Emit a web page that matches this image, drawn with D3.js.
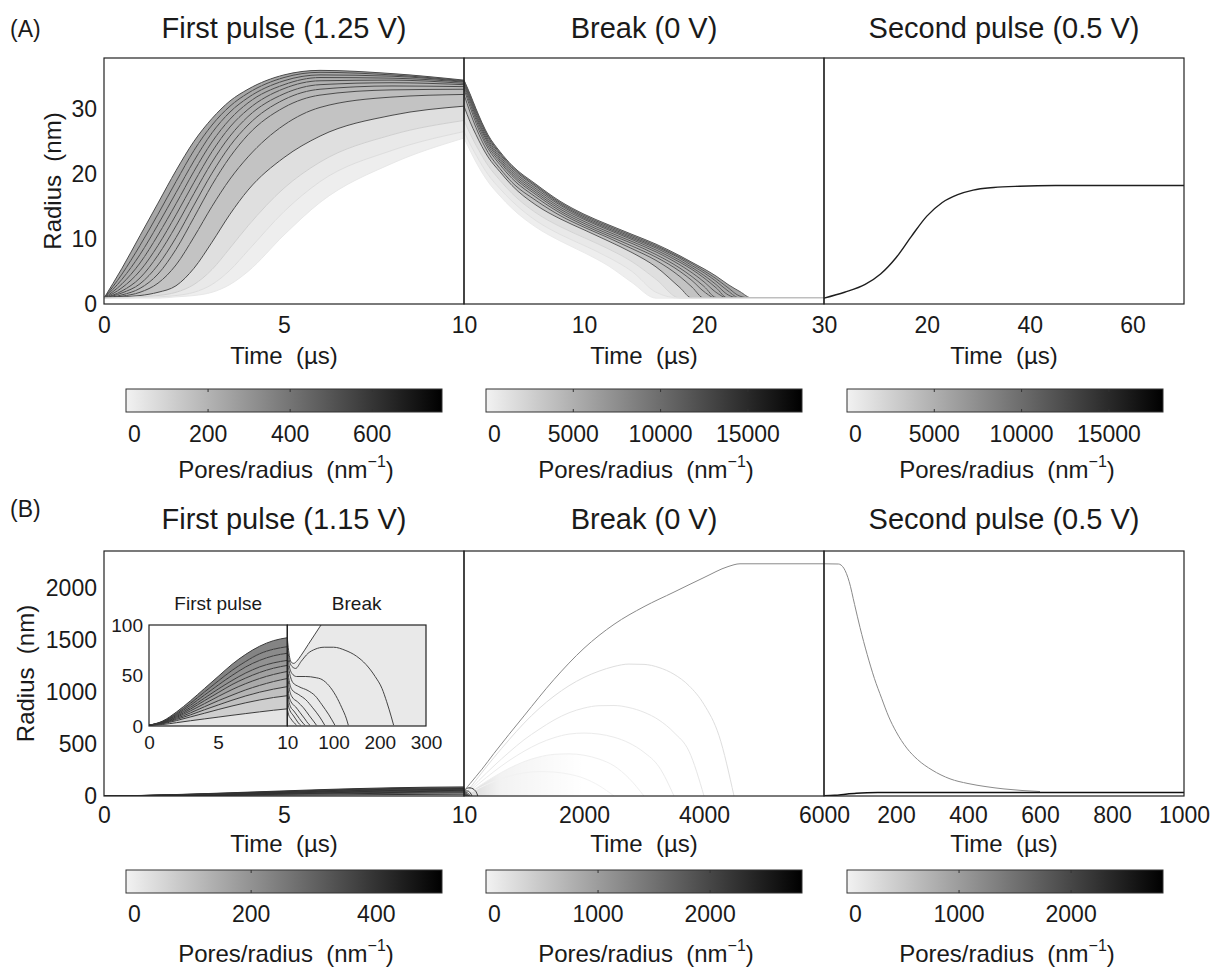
<!DOCTYPE html>
<html>
<head>
<meta charset="utf-8">
<script src="https://cdn.jsdelivr.net/npm/d3@7"></script>
<style>
body { margin: 0; background: #fff; }
text { font-family: "Liberation Sans", Arial, Helvetica, sans-serif; fill: #1a1a1a; white-space: pre; }
</style>
</head>
<body>
<div class="chart"></div>
<script>
// ---- (A) pulses 1.25 V / 0 V / 0.5 V : pore radius (nm) vs time (us) ----
var timeA1 = [0, 0.5, 1, 1.5, 2, 2.5, 3, 3.5, 4, 5, 6, 8, 10]
var radiusA1 = [
    [0.9, 5.5, 10.5, 15.5, 20.5, 25.0, 28.5, 31.2, 33.0, 35.2, 35.9, 35.4, 34.4],
    [0.9, 4.6, 9.0, 13.8, 18.8, 23.6, 27.5, 30.4, 32.4, 34.8, 35.6, 35.2, 34.3],
    [0.9, 3.8, 7.6, 12.2, 17.1, 22.0, 26.3, 29.5, 31.7, 34.3, 35.2, 35.0, 34.2],
    [0.9, 3.1, 6.3, 10.6, 15.4, 20.4, 24.9, 28.4, 30.9, 33.7, 34.8, 34.7, 34.1],
    [0.9, 2.5, 5.1, 9.0, 13.7, 18.7, 23.4, 27.2, 29.9, 33.1, 34.3, 34.4, 33.9],
    [0.9, 2.0, 4.0, 7.5, 12.0, 17.0, 21.8, 25.8, 28.8, 32.3, 33.7, 34.0, 33.7],
    [0.9, 1.7, 3.1, 6.0, 10.2, 15.2, 20.1, 24.3, 27.5, 31.4, 33.0, 33.5, 33.4],
    [0.9, 1.4, 2.4, 4.6, 8.4, 13.3, 18.3, 22.6, 26.0, 30.2, 32.1, 32.9, 33.0],
    [0.9, 1.2, 1.8, 3.2, 6.0, 10.3, 15.0, 19.2, 22.6, 27.5, 30.2, 31.8, 32.2],
    [0.9, 1.1, 1.3, 1.8, 2.8, 5.5, 9.5, 13.8, 17.5, 22.5, 25.8, 29.0, 30.4],
    [0.9, 1.0, 1.1, 1.3, 1.8, 3.0, 5.3, 8.6, 12.0, 17.8, 21.8, 26.0, 28.2],
    [0.9, 0.9, 1.0, 1.1, 1.3, 1.8, 3.0, 5.2, 8.2, 14.2, 18.8, 23.6, 26.5],
    [0.9, 0.9, 0.9, 0.9, 1.1, 1.3, 1.8, 3.0, 5.0, 10.6, 15.6, 21.6, 25.5]
]
var densityA1 = [240, 232, 224, 216, 206, 196, 184, 170, 150, 60, 30, 12]

var timeA2 = [0, 0.5, 1, 2, 3, 4, 6, 8, 10, 12, 14, 16, 18, 19, 20, 21, 22, 23, 24, 30]
var radiusA2 = [
    [34.4, 32.3, 30.0, 26.0, 23.4, 21.3, 18.4, 15.8, 13.8, 12.2, 10.7, 9.2, 7.4, 6.4, 5.4, 4.3, 3.0, 1.9, 0.9, 0.9],
    [34.3, 32.1, 29.8, 25.8, 23.2, 21.1, 18.2, 15.6, 13.6, 12.0, 10.5, 9.0, 7.2, 6.2, 5.1, 3.9, 2.5, 1.2, 0.9, 0.9],
    [34.2, 31.9, 29.6, 25.6, 23.0, 20.9, 18.0, 15.4, 13.4, 11.8, 10.3, 8.8, 7.0, 5.9, 4.8, 3.5, 2.0, 0.9, 0.9, 0.9],
    [34.1, 31.7, 29.3, 25.3, 22.7, 20.6, 17.7, 15.2, 13.2, 11.6, 10.1, 8.6, 6.7, 5.6, 4.4, 3.0, 1.4, 0.9, 0.9, 0.9],
    [33.9, 31.5, 29.0, 25.0, 22.4, 20.3, 17.4, 14.9, 13.0, 11.4, 9.9, 8.3, 6.4, 5.3, 4.0, 2.5, 0.9, 0.9, 0.9, 0.9],
    [33.7, 31.2, 28.7, 24.7, 22.1, 20.0, 17.1, 14.6, 12.7, 11.1, 9.6, 8.0, 6.0, 4.8, 3.4, 1.8, 0.9, 0.9, 0.9, 0.9],
    [33.4, 30.8, 28.3, 24.3, 21.8, 19.7, 16.8, 14.3, 12.4, 10.8, 9.3, 7.6, 5.5, 4.2, 2.7, 1.0, 0.9, 0.9, 0.9, 0.9],
    [33.0, 30.3, 27.8, 23.9, 21.4, 19.3, 16.4, 14.0, 12.1, 10.5, 8.9, 7.2, 5.0, 3.6, 1.9, 0.9, 0.9, 0.9, 0.9, 0.9],
    [32.2, 29.5, 27.1, 23.3, 20.8, 18.7, 15.9, 13.6, 11.8, 10.2, 8.5, 6.7, 4.2, 2.6, 0.9, 0.9, 0.9, 0.9, 0.9, 0.9],
    [30.4, 28.0, 26.0, 22.6, 20.3, 18.2, 15.2, 13.1, 11.4, 9.7, 7.9, 5.7, 2.5, 0.9, 0.9, 0.9, 0.9, 0.9, 0.9, 0.9],
    [28.2, 26.2, 24.4, 21.3, 19.0, 17.0, 14.0, 11.9, 10.2, 8.5, 6.5, 3.8, 0.9, 0.9, 0.9, 0.9, 0.9, 0.9, 0.9, 0.9],
    [26.5, 24.6, 22.9, 19.9, 17.7, 15.8, 12.8, 10.7, 9.0, 7.2, 5.0, 1.8, 0.9, 0.9, 0.9, 0.9, 0.9, 0.9, 0.9, 0.9],
    [25.5, 23.6, 21.8, 18.8, 16.6, 14.7, 11.8, 9.7, 7.9, 5.9, 3.3, 0.9, 0.9, 0.9, 0.9, 0.9, 0.9, 0.9, 0.9, 0.9]
]
var densityA2 = [5600, 5450, 5300, 5100, 4900, 4650, 4400, 4000, 3500, 1400, 700, 280]

var timeA3 = [0, 4, 8, 11, 14, 17, 20, 23, 26, 29, 33, 38, 45, 70]
var radiusA3 = [0.9, 1.8, 3.0, 4.6, 7.1, 10.4, 13.5, 15.6, 16.8, 17.5, 17.9, 18.1, 18.2, 18.2]

// ---- (B) pulses 1.15 V / 0 V / 0.5 V ----
var timeB1 = [0, 1, 2, 3, 4, 5, 6, 7, 8, 9, 10]
var radiusB1 = [
    [0.8, 5.0, 14.0, 25.0, 37.0, 49.0, 61.0, 71.0, 79.0, 84.5, 87.4],
    [0.8, 4.5, 12.5, 22.5, 33.5, 44.5, 55.0, 64.0, 71.5, 76.0, 78.5],
    [0.8, 4.2, 11.5, 20.5, 30.5, 40.5, 50.0, 58.5, 65.0, 69.5, 72.0],
    [0.8, 3.9, 10.5, 18.5, 27.5, 36.5, 45.0, 52.5, 58.5, 62.5, 65.0],
    [0.8, 3.6, 9.5, 16.8, 25.0, 33.0, 41.0, 47.5, 53.0, 57.2, 60.0],
    [0.8, 3.3, 8.6, 15.0, 22.0, 29.2, 36.0, 42.0, 47.0, 51.0, 54.0],
    [0.8, 3.0, 7.6, 13.0, 19.0, 25.0, 30.5, 35.8, 40.2, 44.0, 47.0],
    [0.8, 2.7, 6.6, 11.0, 16.0, 20.8, 25.5, 29.8, 33.5, 36.5, 39.0],
    [0.8, 2.3, 5.4, 9.0, 12.6, 16.3, 19.8, 23.0, 25.8, 28.2, 30.0],
    [0.8, 1.5, 3.3, 5.2, 7.0, 8.8, 10.6, 12.3, 14.0, 15.6, 17.0]
]
var densityB1 = [230, 215, 200, 185, 170, 150, 130, 105, 75, 30]

// break, [time, radius]: the pore that keeps growing, then the ones that close
var breakTopB = [[0, 87.4], [2, 78], [5, 68], [9, 63], [14, 62], [20, 64], [30, 70], [45, 80.5], [60, 91],
    [70, 98], [100, 118], [200, 188], [300, 258], [500, 410], [1000, 770], [1500, 1120], [2000, 1420],
    [2500, 1650], [3000, 1820], [3500, 1960], [4000, 2100], [4400, 2205], [4600, 2232], [6000, 2232]]
var breakB = [
    [[0, 78.5], [4, 66], [10, 59], [18, 57], [30, 64], [45, 72], [60, 76], [80, 78], [100, 78], [125, 75], [150, 69], [170, 61], [190, 49], [205, 37], [215, 24], [225, 9], [230, 0.8]],
    [[0, 72], [4, 60], [10, 52], [20, 49], [40, 49], [60, 48], [75, 46], [90, 40], [105, 30], [118, 18], [128, 7], [132, 0.8]],
    [[0, 65], [5, 52], [12, 43], [25, 39], [45, 35], [60, 30], [75, 21], [90, 11], [103, 0.8]],
    [[0, 60], [4, 45], [10, 36], [25, 31], [40, 26], [55, 18], [70, 9], [81, 0.8]],
    [[0, 54], [4, 38], [10, 29], [22, 24], [35, 18], [48, 10], [58, 4], [63, 0.8]],
    [[0, 47], [3, 32], [8, 24], [18, 19], [28, 13], [38, 7], [45, 2.5], [49, 0.8]],
    [[0, 39], [3, 26], [7, 19], [14, 15], [22, 10], [30, 5], [38, 0.8]],
    [[0, 30], [2.5, 20], [6, 15], [12, 11], [18, 7], [24, 3], [29, 0.8]],
    [[0, 17], [3, 11], [8, 7], [14, 3.5], [20, 0.8]]
]
// faint arcs of the break (low pore density)
var timeArcB2 = [0, 250, 500, 750, 1000, 1250, 1500, 1750, 2000, 2250, 2500, 2750, 3000, 3250, 3500, 3750, 4000, 4250, 4500]
var radiusArcB2 = [
    [0, 190, 370, 540, 700, 840, 960, 1060, 1140, 1200, 1245, 1268, 1265, 1235, 1170, 1060, 880, 580, 0],
    [0, 150, 290, 420, 540, 640, 730, 800, 845, 868, 870, 850, 805, 730, 610, 430, 0, null, null],
    [0, 120, 235, 340, 430, 505, 560, 595, 605, 595, 565, 510, 420, 280, 0, null, null, null, null],
    [0, 95, 185, 265, 330, 375, 400, 405, 392, 355, 290, 170, 0, null, null, null, null, null, null],
    [0, 75, 140, 190, 222, 235, 230, 210, 170, 100, 0, null, null, null, null, null, null, null, null]
]
var secondTopB = [[0, 2232], [40, 2230], [55, 2190], [70, 2060], [85, 1840], [100, 1620], [120, 1360], [140, 1130],
    [160, 940], [180, 760], [200, 620], [230, 460], [260, 350], [300, 250], [350, 165], [400, 120], [450, 90],
    [500, 68], [550, 53], [600, 43]]
var secondLowB = [[0, 1], [30, 6], [60, 17], [90, 26], [120, 31], [150, 33], [1000, 33]]

// axes and labels
var titlesA = ['First pulse (1.25 V)', 'Break (0 V)', 'Second pulse (0.5 V)']
var titlesB = ['First pulse (1.15 V)', 'Break (0 V)', 'Second pulse (0.5 V)']
var domainsXA = [[0, 10], [0, 30], [0, 70]]
var domainsXB = [[0, 10], [0, 6000], [0, 1000]]
var ticksXA = [[0, 5, 10], [10, 20, 30], [20, 40, 60]]
var ticksXB = [[0, 5, 10], [2000, 4000, 6000], [200, 400, 600, 800, 1000]]
var yMaxA = 37.8, yMaxB = 2355
var ticksYA = [0, 10, 20, 30]
var ticksYB = [0, 500, 1000, 1500, 2000]
var barMaxA = [770, 18100, 18100]
var barTicksA = [[0, 200, 400, 600], [0, 5000, 10000, 15000], [0, 5000, 10000, 15000]]
var barMaxB = [505, 2820, 2820]
var barTicksB = [[0, 200, 400], [0, 1000, 2000], [0, 1000, 2000]]
var insetTicksY = [0, 50, 100]
var insetTicksX1 = [0, 5, 10]
var insetTicksX2 = [100, 200, 300]

var ink = '#1a1a1a'
var cols = [104, 464, 824, 1184]
var barCols = [[126, 442], [486, 802], [847, 1163]]

var svg = d3.select('.chart').append('svg')
    .attr('width', 1218)
    .attr('height', 975)
var defs = svg.append('defs')

var bar = defs.append('linearGradient').attr('id', 'greyBar')
bar.append('stop').attr('offset', '0%').attr('stop-color', '#f2f2f2')
bar.append('stop').attr('offset', '100%').attr('stop-color', '#000')

var clipCount = 0
function clipped(x0, y0, x1, y1) {
    var id = 'clip' + (clipCount++)
    defs.append('clipPath').attr('id', id)
        .append('rect').attr('x', x0).attr('y', y0).attr('width', x1 - x0).attr('height', y1 - y0)
    return svg.append('g').attr('clip-path', 'url(#' + id + ')')
}

function greyScale(max) {
    return d3.scaleLinear().domain([0, max]).range(['#f2f2f2', '#000000'])
}

function lineGen(x, y) {
    return d3.line().curve(d3.curveMonotoneX)
        .defined(function(d) { return d[1] != null })
        .x(function(d) { return x(d[0]) })
        .y(function(d) { return y(d[1]) })
}

function zip(time, values) {
    return time.map(function(t, i) { return [t, values[i]] })
}

function drawBands(g, x, y, time, curves, density, grey) {
    var area = d3.area().curve(d3.curveMonotoneX)
        .x(function(d) { return x(d[0]) })
        .y0(function(d) { return y(d[2]) })
        .y1(function(d) { return y(d[1]) })
    density.forEach(function(v, k) {
        var upper = curves[k], lower = curves[k + 1]
        var pts = time.map(function(t, i) { return [t, upper[i], lower ? lower[i] : 0] })
        g.append('path').attr('d', area(pts)).style('fill', grey(v)).style('stroke', 'none')
    })
}

function drawPath(g, pts, x, y, stroke, width) {
    g.append('path')
        .attr('d', lineGen(x, y)(pts))
        .style('fill', 'none')
        .style('stroke', stroke)
        .style('stroke-width', width)
}

function frame(x0, y0, x1, y1) {
    svg.append('rect')
        .attr('x', x0).attr('y', y0).attr('width', x1 - x0).attr('height', y1 - y0)
        .style('fill', 'none').style('stroke', '#222').style('stroke-width', 1.2)
}

function bottomAxis(x, ticks, y0, pad, size) {
    var ax = svg.append('g')
        .attr('transform', 'translate(0,' + y0 + ')')
        .call(d3.axisBottom(x).tickValues(ticks).tickSize(0).tickPadding(pad).tickFormat(d3.format('d')))
    ax.select('.domain').remove()
    ax.attr('font-size', size)
    ax.selectAll('text').style('fill', ink)
}

function leftAxis(y, ticks, x0, size) {
    var ax = svg.append('g')
        .attr('transform', 'translate(' + x0 + ',0)')
        .call(d3.axisLeft(y).tickValues(ticks).tickSize(0).tickPadding(7).tickFormat(d3.format('d')))
    ax.select('.domain').remove()
    ax.attr('font-size', size)
    ax.selectAll('text').style('fill', ink)
}

function label(x, y, txt, size, anchor) {
    return svg.append('text')
        .attr('x', x).attr('y', y)
        .attr('font-size', size)
        .attr('text-anchor', anchor || 'middle')
        .text(txt)
}

function poresLabel(x, y) {
    var t = svg.append('text').attr('x', x).attr('y', y)
        .attr('font-size', 24).attr('text-anchor', 'middle')
    t.append('tspan').text('Pores/radius  (nm')
    t.append('tspan').attr('dy', -11).attr('font-size', 16).text('\u22121')
    t.append('tspan').attr('dy', 11).text(')')
}

function colorbars(top, maxes, ticks, labelY, titleY) {
    barCols.forEach(function(c, i) {
        var s = d3.scaleLinear().domain([0, maxes[i]]).range(c)
        svg.append('rect')
            .attr('x', c[0]).attr('y', top).attr('width', c[1] - c[0]).attr('height', 23)
            .style('fill', 'url(#greyBar)').style('stroke', '#333').style('stroke-width', 1)
        ticks[i].forEach(function(v) {
            if (v > 0) {
                svg.append('line').attr('x1', s(v)).attr('x2', s(v)).attr('y1', top).attr('y2', top + 3)
                    .style('stroke', '#333')
                svg.append('line').attr('x1', s(v)).attr('x2', s(v)).attr('y1', top + 20).attr('y2', top + 23)
                    .style('stroke', '#333')
            }
            label(s(v) + (v === 0 ? 2 : 0), labelY, String(v), 23, v === 0 ? 'start' : 'middle')
        })
        poresLabel((c[0] + c[1]) / 2 + 2, titleY)
    })
}

// ================= row A =================
var topA = 58, botA = 304
var yA = d3.scaleLinear().domain([0, yMaxA]).range([botA, topA])
var xA = domainsXA.map(function(d, i) { return d3.scaleLinear().domain(d).range([cols[i], cols[i + 1]]) })

// first pulse
var gA1 = clipped(cols[0], topA, cols[1], botA)
drawBands(gA1, xA[0], yA, timeA1, radiusA1, densityA1, greyScale(barMaxA[0]))
radiusA1.forEach(function(r, k) {
    var faint = ['#cfcfcf', '#dddddd', '#e8e8e8']
    drawPath(gA1, zip(timeA1, r), xA[0], yA, k < 10 ? '#4a4a4a' : faint[k - 10], 1)
})

// break
var gA2 = clipped(cols[1], topA, cols[2], botA)
drawBands(gA2, xA[1], yA, timeA2, radiusA2, densityA2, greyScale(barMaxA[1]))
radiusA2.forEach(function(r, k) {
    var faint = ['#d4d4d4', '#e0e0e0', '#eaeaea']
    drawPath(gA2, zip(timeA2, r), xA[1], yA, k < 10 ? '#585858' : faint[k - 10], 1)
})

// second pulse
var gA3 = clipped(cols[2], topA, cols[3], botA)
drawPath(gA3, zip(timeA3, radiusA3), xA[2], yA, '#1e1e1e', 1.4)

for (var i = 0; i < 3; i++) {
    frame(cols[i], topA, cols[i + 1], botA)
    bottomAxis(xA[i], ticksXA[i], botA, 13, 23)
    label((cols[i] + cols[i + 1]) / 2, 38, titlesA[i], 29)
    label((cols[i] + cols[i + 1]) / 2, 364, 'Time  (\u00b5s)', 24)
}
leftAxis(yA, ticksYA, cols[0], 23)
label(10, 37, '(A)', 23, 'start')
svg.append('text').attr('transform', 'translate(61,' + ((topA + botA) / 2) + ') rotate(-90)')
    .attr('font-size', 24).attr('text-anchor', 'middle').text('Radius  (nm)')
colorbars(389, barMaxA, barTicksA, 442, 478)

// ================= row B =================
var topB = 551, botB = 796
var yB = d3.scaleLinear().domain([0, yMaxB]).range([botB, topB])
var xB = domainsXB.map(function(d, i) { return d3.scaleLinear().domain(d).range([cols[i], cols[i + 1]]) })

var gB1 = clipped(cols[0], topB, cols[1], botB)
drawBands(gB1, xB[0], yB, timeB1, radiusB1, densityB1, greyScale(barMaxB[0]))
radiusB1.forEach(function(r) { drawPath(gB1, zip(timeB1, r), xB[0], yB, '#333', 1) })

var gB2 = clipped(cols[1], topB, cols[2], botB)
var glow = defs.append('linearGradient').attr('id', 'glow')
    .attr('gradientUnits', 'userSpaceOnUse')
    .attr('x1', xB[1](0)).attr('x2', xB[1](2000)).attr('y1', 0).attr('y2', 0)
glow.append('stop').attr('offset', '0%').attr('stop-color', '#000').attr('stop-opacity', 0.16)
glow.append('stop').attr('offset', '30%').attr('stop-color', '#000').attr('stop-opacity', 0.05)
glow.append('stop').attr('offset', '100%').attr('stop-color', '#000').attr('stop-opacity', 0)
gB2.append('path')
    .attr('d', d3.area().curve(d3.curveMonotoneX)
        .defined(function(d) { return d[1] != null })
        .x(function(d) { return xB[1](d[0]) })
        .y0(yB(0))
        .y1(function(d) { return yB(d[1]) })(zip(timeArcB2, radiusArcB2[3])))
    .style('fill', 'url(#glow)')
var arcGreys = ['#dedede', '#e6e6e6', '#ebebeb', '#efefef', '#f2f2f2']
radiusArcB2.forEach(function(r, k) { drawPath(gB2, zip(timeArcB2, r), xB[1], yB, arcGreys[k], 1) })
breakB.forEach(function(c) { drawPath(gB2, c, xB[1], yB, '#333', 1) })
drawPath(gB2, breakTopB, xB[1], yB, '#8a8a8a', 1)

var gB3 = clipped(cols[2], topB, cols[3], botB)
drawPath(gB3, secondTopB, xB[2], yB, '#8a8a8a', 1)
drawPath(gB3, secondLowB, xB[2], yB, '#111', 1.6)

for (var j = 0; j < 3; j++) {
    frame(cols[j], topB, cols[j + 1], botB)
    bottomAxis(xB[j], ticksXB[j], botB, 11, 23)
    label((cols[j] + cols[j + 1]) / 2, 529, titlesB[j], 29)
    label((cols[j] + cols[j + 1]) / 2, 852, 'Time  (\u00b5s)', 24)
}
leftAxis(yB, ticksYB, cols[0], 23)
label(10, 517, '(B)', 23, 'start')
svg.append('text').attr('transform', 'translate(34,' + ((topB + botB) / 2) + ') rotate(-90)')
    .attr('font-size', 24).attr('text-anchor', 'middle').text('Radius  (nm)')
colorbars(870, barMaxB, barTicksB, 922, 962)

// ---- inset: first pulse and the first 300 us of the break ----
var inL = 149, inM = 287.3, inR = 426, inT = 625, inB = 726
var yIn = d3.scaleLinear().domain([0, 100]).range([inB, inT])
var xIn1 = d3.scaleLinear().domain([0, 10]).range([inL, inM])
var xIn2 = d3.scaleLinear().domain([0, 300]).range([inM, inR])

svg.append('rect').attr('x', inL).attr('y', inT).attr('width', inR - inL).attr('height', inB - inT)
    .style('fill', '#fff')
var gI1 = clipped(inL, inT, inM, inB)
drawBands(gI1, xIn1, yIn, timeB1, radiusB1, densityB1, greyScale(barMaxB[0]))
radiusB1.forEach(function(r) { drawPath(gI1, zip(timeB1, r), xIn1, yIn, '#3a3a3a', 1) })

var gI2 = clipped(inM, inT, inR, inB)
gI2.append('path')
    .attr('d', d3.area().curve(d3.curveMonotoneX)
        .x(function(d) { return xIn2(d[0]) })
        .y0(yIn(0))
        .y1(function(d) { return yIn(d[1]) })(breakTopB))
    .style('fill', '#e9e9e9')
breakB.forEach(function(c) { drawPath(gI2, c, xIn2, yIn, '#444', 1) })
drawPath(gI2, breakTopB, xIn2, yIn, '#444', 1)

frame(inL, inT, inM, inB)
frame(inM, inT, inR, inB)
bottomAxis(xIn1, insetTicksX1, inB, 10, 19)
bottomAxis(xIn2, insetTicksX2, inB, 10, 19)
var axIn = svg.append('g')
    .attr('transform', 'translate(' + inL + ',0)')
    .call(d3.axisLeft(yIn).tickValues(insetTicksY).tickSize(0).tickPadding(6))
axIn.select('.domain').remove()
axIn.attr('font-size', 19)
axIn.selectAll('text').style('fill', ink)
label((inL + inM) / 2, 610, 'First pulse', 19)
label((inM + inR) / 2, 610, 'Break', 19)
</script>
</body>
</html>
